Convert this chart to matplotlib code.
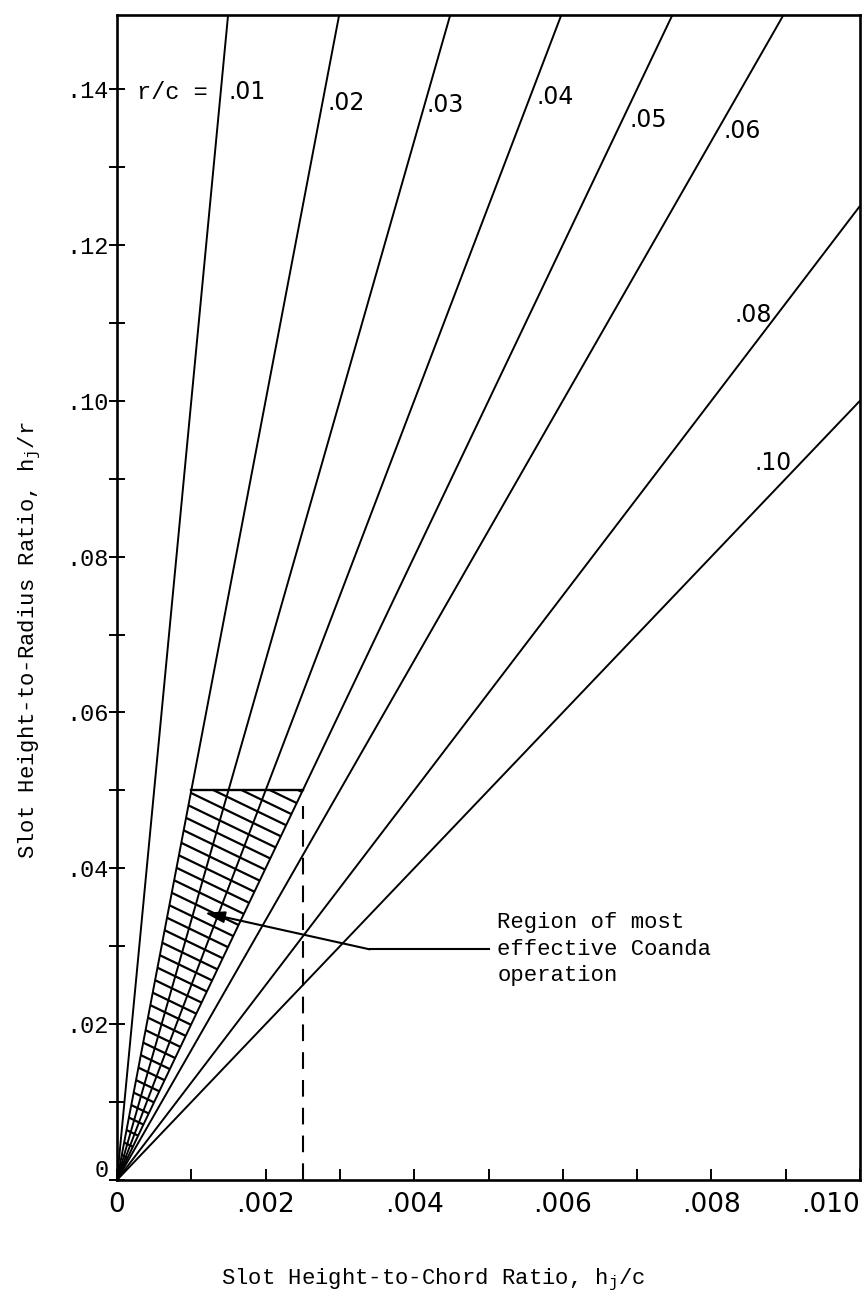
import numpy as np
import matplotlib
matplotlib.use("Agg")
import matplotlib.pyplot as plt
import matplotlib.transforms as mtransforms
from matplotlib.patches import Polygon
from matplotlib.ticker import MultipleLocator, FixedLocator

plt.rcParams['lines.scale_dashes'] = False
plt.rcParams['mathtext.fontset'] = 'custom'
plt.rcParams['mathtext.rm'] = 'Liberation Mono'
plt.rcParams['mathtext.it'] = 'Liberation Mono'

TYPE = 'Liberation Mono'
LETTER = 'DejaVu Sans'

# r/c curves: h_j/r = (h_j/c) / (r/c)
rc_values = [0.01, 0.02, 0.03, 0.04, 0.05, 0.06, 0.08, 0.10]
rc_labels = ['.01', '.02', '.03', '.04', '.05', '.06', '.08', '.10']
rc_label_x = [0.00150, 0.00283, 0.00416, 0.00564, 0.00690, 0.00816, 0.00881, 0.00908]
rc_label_y = [0.1396, 0.1382, 0.1379, 0.1390, 0.1360, 0.1346, 0.1110, 0.0920]
rc_label_ha = ['left', 'left', 'left', 'left', 'left', 'left', 'right', 'right']

# region of most effective Coanda operation
region_hc = [0.0, 0.0010, 0.0025]
region_hr = [0.0, 0.050, 0.050]
limit_hc = 0.0025
limit_hr = 0.050

x_ticks = [0.0, 0.002, 0.004, 0.006, 0.008, 0.010]
x_ticklabels = ['0', '.002', '.004', '.006', '.008', '.010']
y_ticks = [0.0, 0.02, 0.04, 0.06, 0.08, 0.10, 0.12, 0.14]
y_ticklabels = ['0', '.02', '.04', '.06', '.08', '.10', '.12', '.14']

W, H = 867, 1307
fig = plt.figure(figsize=(W / 100, H / 100), dpi=100)
L, R, B, T = 117, 860, 1180, 15
ax = fig.add_axes([L / W, 1 - B / H, (R - L) / W, (B - T) / H])
ax.set_xlim(0, 0.0100)
ax.set_ylim(0, 0.1495)

# fan of constant r/c lines
xx = np.array([0.0, 0.0100])
for rc in rc_values:
    ax.plot(xx, xx / rc, color='black', lw=1.4, solid_capstyle='butt')

for lab, lx, ly, ha in zip(rc_labels, rc_label_x, rc_label_y, rc_label_ha):
    ax.text(lx, ly, lab, fontsize=17, family=LETTER, ha=ha, va='center')
ax.text(0.00027, 0.1396, 'r/c =', fontsize=17, family=TYPE, ha='left', va='center')

# cross-hatched region
poly = Polygon(np.column_stack([region_hc, region_hr]), closed=True,
               facecolor='none', edgecolor='none')
ax.add_patch(poly)
ax.plot(region_hc[1:], region_hr[1:], color='black', lw=1.7)
slope = -4.6
for c in np.arange(0.0, 0.075, 0.00175):
    ln, = ax.plot([0, 0.003], [c, c + slope * 0.003], color='black', lw=1.6)
    ln.set_clip_path(poly)

# dashed limit at h_j/c = .0025
ax.plot([limit_hc, limit_hc], [0, limit_hr - 0.002], color='black', lw=1.5,
        linestyle=(0, (12, 8)))

# leader and text
head = (0.00118, 0.0343)
bend = (0.0034, 0.0296)
end = (0.0050, 0.0296)
ax.plot([bend[0], end[0]], [bend[1], end[1]], color='black', lw=1.5)
ax.annotate('', xy=head, xytext=bend,
            arrowprops=dict(arrowstyle='-|>,head_length=1.2,head_width=0.35',
                            color='black', lw=1.5, shrinkA=0, shrinkB=0))
ax.text(0.00512, 0.0296, 'Region of most\neffective Coanda\noperation',
        fontsize=16, family=TYPE, ha='left', va='center', linespacing=1.35)

# axes frame and ticks
for s in ax.spines.values():
    s.set_linewidth(1.9)
ax.xaxis.set_major_locator(FixedLocator(x_ticks))
ax.xaxis.set_minor_locator(MultipleLocator(0.001))
ax.yaxis.set_major_locator(FixedLocator(y_ticks))
ax.yaxis.set_minor_locator(MultipleLocator(0.01))
ax.set_xticklabels(x_ticklabels, fontsize=19, family=LETTER)
ax.set_yticklabels(y_ticklabels, fontsize=17, family=TYPE)
ax.tick_params(axis='x', which='both', direction='in', length=8, width=1.4, pad=9)
ax.tick_params(axis='y', which='both', direction='inout', length=12, width=1.4, pad=0)
ax.tick_params(top=False, right=False)
ax.get_xticklabels()[-1].set_ha('right')
# the zero on the vertical axis sits a little above the corner
zero_lab = ax.get_yticklabels()[0]
zero_lab.set_transform(zero_lab.get_transform() +
                       mtransforms.ScaledTranslation(0, 12 / 100, fig.dpi_scale_trans))

fig.text(0.5, 1 - 1280 / H, r'Slot Height-to-Chord Ratio, $\mathregular{h_j/c}$',
         fontsize=16, family=TYPE, ha='center', va='center')
fig.text(30 / W, 1 - 640 / H, r'Slot Height-to-Radius Ratio, $\mathregular{h_j/r}$',
         fontsize=16, family=TYPE, ha='center', va='center', rotation=90)

fig.savefig('out.png', dpi=100)
